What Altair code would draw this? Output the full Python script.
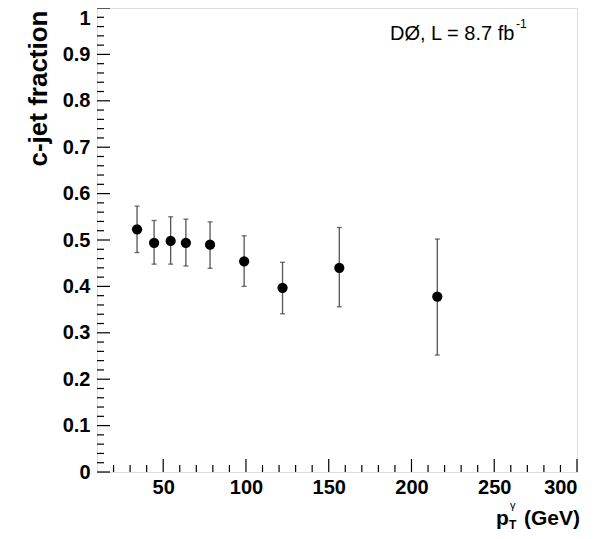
import altair as alt
import pandas as pd

# Data
pt = [34.2, 44.5, 54.5, 63.7, 78.3, 98.9, 122.1, 156.4, 215.6]
frac = [0.523, 0.494, 0.498, 0.494, 0.490, 0.454, 0.397, 0.440, 0.378]
err_hi = [0.573, 0.542, 0.550, 0.545, 0.539, 0.509, 0.452, 0.527, 0.502]
err_lo = [0.473, 0.448, 0.448, 0.444, 0.439, 0.400, 0.341, 0.356, 0.252]

x_major = [50, 100, 150, 200, 250, 300]
x_minor = [20, 30, 40, 60, 70, 80, 90, 110, 120, 130, 140, 160, 170, 180, 190,
           210, 220, 230, 240, 260, 270, 280, 290]
y_major = [0, 0.1, 0.2, 0.3, 0.4, 0.5, 0.6, 0.7, 0.8, 0.9, 1.0]
y_minor = [round(i * 0.02, 2) for i in range(51) if i % 5 != 0]

W, H = 480, 464
FONT = "Liberation Sans"

df = pd.DataFrame({"pt": pt, "frac": frac, "hi": err_hi, "lo": err_lo})

xs = alt.Scale(domain=[10, 300], nice=False, zero=False)
ys = alt.Scale(domain=[0, 1], nice=False, zero=False)

base = alt.Chart(df)

xaxis = alt.Axis(values=x_major, ticks=False, domain=False, grid=False,
                 labelFont=FONT, labelFontSize=20, labelFontWeight="bold",
                 labelColor="black", labelPadding=5, title=None)
yaxis = alt.Axis(values=y_major, ticks=False, domain=False, grid=False, format="~g",
                 labelFont=FONT, labelFontSize=20, labelFontWeight="bold",
                 labelColor="black", labelPadding=7,
                 labelBaseline=alt.condition("datum.value == 1", alt.value("top"), alt.value("middle")),
                 title="c-jet fraction", titleFont=FONT, titleFontSize=26,
                 titleFontWeight="bold", titleColor="black", titleAngle=270,
                 titleAlign="right", titleBaseline="middle", titleX=-59, titleY=2)

bars = base.mark_rule(color="#555555", strokeWidth=1.3).encode(
    x=alt.X("pt:Q", scale=xs, axis=xaxis),
    y=alt.Y("lo:Q", scale=ys, axis=yaxis),
    y2="hi:Q",
)
caps_hi = base.mark_tick(color="#333333", size=5, thickness=1.3, orient="horizontal").encode(
    x=alt.X("pt:Q", scale=xs), y=alt.Y("hi:Q", scale=ys))
caps_lo = base.mark_tick(color="#333333", size=5, thickness=1.3, orient="horizontal").encode(
    x=alt.X("pt:Q", scale=xs), y=alt.Y("lo:Q", scale=ys))
points = base.mark_circle(color="black", opacity=1, size=105).encode(
    x=alt.X("pt:Q", scale=xs), y=alt.Y("frac:Q", scale=ys))

# inward axis ticks (ROOT style)
xmaj = alt.Chart(pd.DataFrame({"v": x_major})).mark_rule(color="black", strokeWidth=1.2).encode(
    x=alt.X("v:Q", scale=xs), y=alt.value(H), y2=alt.value(H - 13))
xmin = alt.Chart(pd.DataFrame({"v": x_minor})).mark_rule(color="black", strokeWidth=1.2).encode(
    x=alt.X("v:Q", scale=xs), y=alt.value(H), y2=alt.value(H - 7))
ymaj = alt.Chart(pd.DataFrame({"v": y_major})).mark_rule(color="black", strokeWidth=1.2).encode(
    y=alt.Y("v:Q", scale=ys), x=alt.value(0), x2=alt.value(13))
ymin = alt.Chart(pd.DataFrame({"v": y_minor})).mark_rule(color="black", strokeWidth=1.2).encode(
    y=alt.Y("v:Q", scale=ys), x=alt.value(0), x2=alt.value(7))

one = alt.Data(values=[{}])


def txt(s, x, y, size, weight="normal", align="left"):
    return alt.Chart(one).mark_text(
        text=s, font=FONT, fontSize=size, fontWeight=weight, align=align,
        baseline="alphabetic", color="black").encode(x=alt.value(x), y=alt.value(y))


labels = [
    txt("DØ, L = 8.7 fb", 293, 31.5, 20),
    txt("-1", 419, 20, 12),
    txt("p", 399, 517, 21, "bold"),
    txt("γ", 413, 501, 11),
    txt("T", 412, 520.5, 12, "bold"),
    txt("(GeV)", 483, 517, 21, "bold", "right"),
]

chart = alt.layer(bars, caps_hi, caps_lo, points, xmaj, xmin, ymaj, ymin, *labels).properties(
    width=W, height=H,
    autosize=alt.AutoSizeParams(type="none"),
    padding={"left": 89, "top": 0, "right": 18, "bottom": 59},
).configure_view(stroke="black", strokeWidth=1.3).configure(background="white")

chart.save("out.html", embed_options={"renderer": "svg", "actions": False})
